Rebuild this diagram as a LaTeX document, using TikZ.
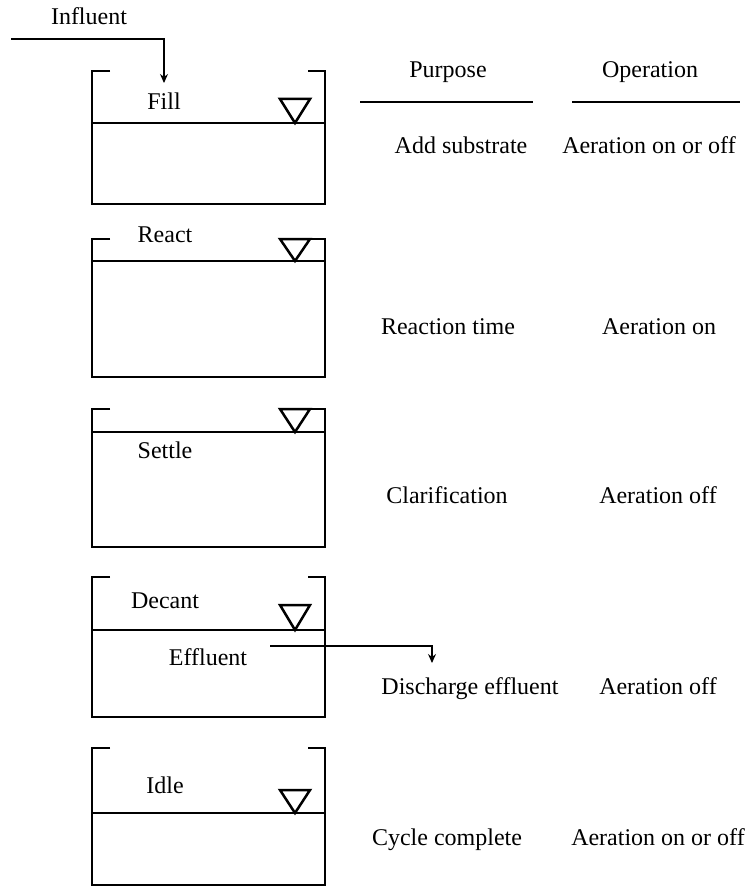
\documentclass[tikz,border=0pt]{standalone}
\usepackage{fontspec}
\setmainfont{Liberation Serif}
\usetikzlibrary{arrows.meta}
\begin{document}
\begin{tikzpicture}[x=0.5pt,y=-0.5pt,
  wall/.style={line width=1.25pt},
  rule/.style={line width=0.75pt},
  flow/.style={line width=0.55pt,-{Stealth[length=4.5pt,width=4pt]}},
  lbl/.style={font=\fontsize{12}{14}\selectfont, inner sep=0pt, text height=0.7em, text depth=0.2em}
]
\useasboundingbox (0,0) rectangle (749,888);

% tanks: top / water / bottom / triangle top
\foreach \t/\w/\b/\tt in {71/123/204/99, 239/261/377/239, 409/432/547/409, 577/630/717/605, 748/813/885/790}{
  \draw[wall] (110,\t) -- (92,\t) -- (92,\b) -- (325,\b) -- (325,\t) -- (308,\t);
  \draw[wall] (92,\w) -- (325,\w);
  \draw[wall, line join=miter] (280,\tt) -- (310,\tt) -- (295,\w) -- cycle;
}

% stage labels
\node[lbl] (fill)     at (164,105) {Fill};
\node[lbl] (react)    at (165,237) {React};
\node[lbl] (settle)   at (165,453) {Settle};
\node[lbl] (decant)   at (165,603) {Decant};
\node[lbl] (effl)     at (208,660) {Effluent};
\node[lbl] (idle)     at (165,788) {Idle};
\node[lbl] (influent) at (89,20)   {Influent};

% influent and effluent flows
\coordinate (inS) at (11,39);
\coordinate (inE) at (164,83);
\draw[flow] (inS) -| (inE);
\coordinate (efS) at (270,646);
\coordinate (efE) at (432,663);
\draw[flow] (efS) -| (efE);

% headers
\node[lbl] (hP) at (448,73) {Purpose};
\node[lbl] (hO) at (650,73) {Operation};
\coordinate (rP1) at (360,102); \coordinate (rP2) at (533,102);
\coordinate (rO1) at (572,102); \coordinate (rO2) at (740,102);
\draw[rule] (rP1) -- (rP2);
\draw[rule] (rO1) -- (rO2);

% purposes
\node[lbl] (p1) at (461,148) {Add substrate};
\node[lbl] (p2) at (448,329) {Reaction time};
\node[lbl] (p3) at (447,498) {Clarification};
\node[lbl] (p4) at (470,689) {Discharge effluent};
\node[lbl] (p5) at (447,840) {Cycle complete};

% operations
\node[lbl] (o1) at (649,148) {Aeration on or off};
\node[lbl] (o2) at (659,329) {Aeration on};
\node[lbl] (o3) at (658,498) {Aeration off};
\node[lbl] (o4) at (658,689) {Aeration off};
\node[lbl] (o5) at (658,840) {Aeration on or off};
\end{tikzpicture}
\end{document}
